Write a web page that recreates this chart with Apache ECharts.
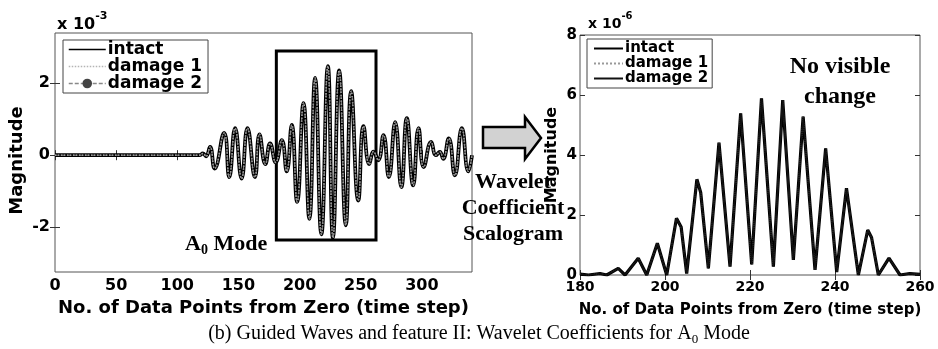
<!DOCTYPE html>
<html>
<head>
<meta charset="utf-8">
<script src="https://cdn.jsdelivr.net/npm/echarts@6/dist/echarts.min.js"></script>
<style>
html, body { margin: 0; padding: 0; background: #fff; }
#chart { width: 938px; height: 349px; }
</style>
</head>
<body>
<div id="chart"></div>
<script>
// left panel: guided wave signal, magnitude in 1e-3 (peaks and troughs)
var waveTime = [0, 118, 121, 123.5, 126.8, 130.5, 138.3, 142.5, 147.3, 152.6, 157.4, 163.5, 167.2, 172, 175.9, 180.5,
	185.5, 189.5, 193.6, 198, 203.2, 208, 212.7, 217.8, 223.1, 227.3, 232.4, 237.8, 242.2, 248, 252.3, 257, 260.5,
	264.3, 268.6, 273, 278.2, 283.2, 287.7, 292.9, 297.3, 301.5, 307.6, 311.5, 314.7, 317.4, 322, 327, 332.7, 338, 341];
var waveIntact = [0, 0, 0.05, -0.03, 0.23, -0.37, 0.62, -0.61, 0.75, -0.65, 0.75, -0.61, 0.58, -0.25, 0.33, -0.2,
	0.42, -0.45, 0.84, -1.3, 1.45, -1.77, 2.15, -2.2, 2.48, -2.3, 2.36, -1.95, 1.78, -1.26, 0.81, -0.25, 0.1,
	-0.14, 0.56, -0.61, 0.92, -0.89, 1.03, -0.84, 0.75, -0.33, 0.37, 0.0, 0.09, -0.1, 0.47, -0.56, 0.75, -0.45, 0.0];
// damage cases lie on top of the intact curve
var waveDamage1 = waveIntact.slice();
var waveDamage2 = waveIntact.slice();
var waveTicksX = [0, 50, 100, 150, 200, 250, 300];
var waveTicksY = [-2, 0, 2];
var boxArea = [181, 262.5, -2.36, 2.9]; // A0 mode window [x0, x1, y0, y1]

// right panel: wavelet coefficient magnitude, 1e-6
var coefTime = [180, 182, 184.7, 186.3, 189, 190.6, 193.7, 195.7, 198.2, 200.4, 202.7, 203.8, 205.1, 207.5, 208.4,
	210.2, 212.7, 215.3, 217.8, 220.4, 222.7, 225.5, 227.7, 230.2, 232.5, 235.3, 237.8, 240.4, 242.7, 245.5, 247.7,
	248.6, 250.2, 252.7, 255.3, 257.6, 260];
var coefIntact = [0.03, 0.0, 0.05, 0.0, 0.22, 0.0, 0.56, 0.0, 1.06, 0.0, 1.89, 1.6, 0.05, 3.19, 2.75,
	0.22, 4.41, 0.28, 5.39, 0.35, 5.89, 0.28, 5.83, 0.5, 5.28, 0.17, 4.22, 0.1, 2.89, 0.0, 1.5,
	1.25, 0.0, 0.56, 0.0, 0.05, 0.02];
var coefDamage1 = coefIntact.slice();
var coefDamage2 = coefIntact.slice();
var coefTicksX = [180, 200, 220, 240, 260];
var coefTicksY = [0, 2, 4, 6, 8];

var seriesNames = ['intact', 'damage 1', 'damage 2'];

var SANS = 'DejaVu Sans';
var SERIF = 'Liberation Serif';

function pairs(t, v) {
	return t.map(function(x, i) {
		return [x, v[i]];
	});
}

function bold(size) {
	return { fontFamily: SANS, fontWeight: 'bold', fontSize: size, color: '#000' };
}

function tickAxis(grid, min, max, ticks, pos, opts) {
	var ax = {
		gridIndex: grid,
		type: 'value',
		min: min,
		max: max,
		position: pos,
		axisLine: { show: false },
		splitLine: { show: false },
		axisTick: { show: true, inside: true, length: 5, customValues: ticks, lineStyle: { color: '#333', width: 1 } },
		axisLabel: { show: false, customValues: ticks }
	};
	return Object.assign(ax, opts || {});
}

// legend rows, the symbol is only shown for damage 2 on the left
function legendRows(names, dotLast) {
	return names.map(function(n, i) {
		var showDot = dotLast && i === names.length - 1;
		return { name: n, itemStyle: { opacity: showDot ? 1 : 0 } };
	});
}

// right panel names carry a zero width space so both legends keep their own icons
var rightNames = seriesNames.map(function(n) { return n + '\u200b'; });

var chart = echarts.init(document.getElementById('chart'));

var option = {
	animation: false,
	backgroundColor: '#fff',
	grid: [
		{ left: 55, top: 33, width: 417, height: 239, show: true, borderColor: '#555', borderWidth: 1 },
		{ left: 580, top: 35, width: 340, height: 240, show: true, borderColor: '#555', borderWidth: 1 }
	],
	xAxis: [
		tickAxis(0, 0, 341, waveTicksX, 'bottom', {
			name: 'No. of Data Points from Zero (time step)',
			nameLocation: 'middle',
			nameGap: 27,
			nameTextStyle: bold(18),
			axisLabel: Object.assign({ show: true, margin: 6, customValues: waveTicksX }, bold(16))
		}),
		tickAxis(0, 0, 341, waveTicksX, 'top'),
		tickAxis(1, 180, 260, coefTicksX, 'bottom', {
			name: 'No. of Data Points from Zero (time step)',
			nameLocation: 'middle',
			nameGap: 28,
			nameTextStyle: bold(15),
			axisLabel: Object.assign({ show: true, margin: 5, customValues: coefTicksX }, bold(14))
		}),
		tickAxis(1, 180, 260, coefTicksX, 'top')
	],
	yAxis: [
		tickAxis(0, -3.25, 3.4, waveTicksY, 'left', {
			name: 'Magnitude',
			nameLocation: 'middle',
			nameGap: 29,
			nameTextStyle: Object.assign({ padding: [0, 16, 0, 0] }, bold(18)),
			axisLabel: Object.assign({ show: true, margin: 5, customValues: waveTicksY }, bold(16))
		}),
		tickAxis(0, -3.25, 3.4, waveTicksY, 'right'),
		tickAxis(1, 0, 8, coefTicksY, 'left', {
			name: 'Magnitude',
			nameLocation: 'middle',
			nameGap: 20,
			nameTextStyle: bold(16),
			axisLabel: Object.assign({ show: true, margin: 3, customValues: coefTicksY }, bold(15))
		}),
		tickAxis(1, 0, 8, coefTicksY, 'right')
	],
	legend: [{
		data: legendRows(seriesNames, true),
		orient: 'vertical',
		left: 63,
		top: 40,
		padding: [1, 6, 1, 5],
		itemGap: 0,
		itemWidth: 37,
		itemHeight: 12,
		backgroundColor: '#fff',
		borderColor: '#444',
		borderWidth: 1,
		borderRadius: 0,
		selectedMode: false,
		lineStyle: { width: 1.5 },
		textStyle: Object.assign({ padding: [0, 0, 0, -3] }, bold(17))
	}, {
		data: legendRows(rightNames, false),
		orient: 'vertical',
		left: 587,
		top: 39,
		padding: [2, 4, 2, 6],
		itemGap: 0,
		itemWidth: 29,
		itemHeight: 12,
		backgroundColor: '#fff',
		borderColor: '#444',
		borderWidth: 1,
		borderRadius: 0,
		selectedMode: false,
		lineStyle: { width: 2 },
		formatter: function(n) {
			return n.replace('\u200b', '');
		},
		textStyle: Object.assign({ padding: [0, 0, 0, -3] }, bold(15))
	}],
	series: [{
		name: seriesNames[0],
		type: 'line',
		xAxisIndex: 0,
		yAxisIndex: 0,
		smooth: 0.5,
		symbol: 'none',
		data: pairs(waveTime, waveIntact),
		lineStyle: { color: '#000', width: 3.8 },
		itemStyle: { color: '#000' },
		markArea: {
			silent: true,
			itemStyle: { color: 'rgba(0,0,0,0)', borderColor: '#000', borderWidth: 3 },
			data: [[{ coord: [boxArea[0], boxArea[3]] }, { coord: [boxArea[1], boxArea[2]] }]]
		},
		z: 2
	}, {
		name: seriesNames[1],
		type: 'line',
		xAxisIndex: 0,
		yAxisIndex: 0,
		smooth: 0.5,
		symbol: 'none',
		data: pairs(waveTime, waveDamage1),
		lineStyle: { color: '#b4b4b4', width: 1.5, type: 'dotted' },
		itemStyle: { color: '#b4b4b4' },
		z: 3
	}, {
		name: seriesNames[2],
		type: 'line',
		xAxisIndex: 0,
		yAxisIndex: 0,
		smooth: 0.5,
		symbol: 'circle',
		symbolSize: 5,
		showSymbol: false,
		data: pairs(waveTime, waveDamage2),
		lineStyle: { color: '#888', width: 1, type: [4, 2] },
		itemStyle: { color: '#444' },
		z: 4
	}, {
		name: rightNames[0],
		type: 'line',
		xAxisIndex: 2,
		yAxisIndex: 2,
		symbol: 'none',
		data: pairs(coefTime, coefIntact),
		lineStyle: { color: '#000', width: 3.2 },
		itemStyle: { color: '#000' },
		z: 2
	}, {
		name: rightNames[1],
		type: 'line',
		xAxisIndex: 2,
		yAxisIndex: 2,
		symbol: 'none',
		data: pairs(coefTime, coefDamage1),
		lineStyle: { color: '#999', width: 1, type: 'dotted' },
		itemStyle: { color: '#999' },
		z: 3
	}, {
		name: rightNames[2],
		type: 'line',
		xAxisIndex: 2,
		yAxisIndex: 2,
		symbol: 'none',
		data: pairs(coefTime, coefDamage2),
		lineStyle: { color: '#111', width: 1.4 },
		itemStyle: { color: '#111' },
		z: 4
	}],
	graphic: [{
		type: 'text',
		left: 57,
		top: 11,
		style: {
			text: '{b|x 10}{s|-3}',
			rich: {
				b: { fontFamily: SANS, fontWeight: 'bold', fontSize: 16, lineHeight: 22, verticalAlign: 'bottom' },
				s: { fontFamily: SANS, fontWeight: 'bold', fontSize: 11, lineHeight: 22, verticalAlign: 'top' }
			}
		}
	}, {
		type: 'text',
		left: 588,
		top: 11,
		style: {
			text: '{b|x 10}{s|-6}',
			rich: {
				b: { fontFamily: SANS, fontWeight: 'bold', fontSize: 14, lineHeight: 20, verticalAlign: 'bottom' },
				s: { fontFamily: SANS, fontWeight: 'bold', fontSize: 10, lineHeight: 20, verticalAlign: 'top' }
			}
		}
	}, {
		type: 'text',
		left: 185,
		top: 233,
		style: {
			text: '{a|A}{s|0}{a| Mode}',
			rich: {
				a: { fontFamily: SERIF, fontWeight: 'bold', fontSize: 22, lineHeight: 26, verticalAlign: 'middle' },
				s: { fontFamily: SERIF, fontWeight: 'bold', fontSize: 14, lineHeight: 26, verticalAlign: 'bottom' }
			}
		}
	}, {
		type: 'polygon',
		shape: {
			points: [[483, 127], [525, 127], [525, 117], [541, 138], [525, 159], [525, 148], [483, 148]]
		},
		style: { fill: '#d2d2d2', stroke: '#000', lineWidth: 2.5 },
		z: 10
	}, {
		type: 'text',
		x: 513,
		y: 169,
		z: 10,
		style: {
			text: 'Wavelet\nCoefficient\nScalogram',
			fontFamily: SERIF,
			fontWeight: 'bold',
			fontSize: 22,
			lineHeight: 26,
			align: 'center',
			verticalAlign: 'top',
			fill: '#000'
		}
	}, {
		type: 'text',
		x: 840,
		y: 52,
		style: {
			text: 'No visible\nchange',
			fontFamily: SERIF,
			fontWeight: 'bold',
			fontSize: 24,
			lineHeight: 30,
			align: 'center',
			verticalAlign: 'top',
			fill: '#000'
		}
	}, {
		type: 'text',
		x: 479,
		y: 322,
		style: {
			text: '{n|(b) Guided Waves and feature II: Wavelet Coefficients for A}{s|0}{n| Mode}',
			align: 'center',
			verticalAlign: 'top',
			rich: {
				n: { fontFamily: SERIF, fontSize: 20, lineHeight: 24, verticalAlign: 'middle', color: '#000' },
				s: { fontFamily: SERIF, fontSize: 13, lineHeight: 24, verticalAlign: 'bottom', color: '#000' }
			}
		}
	}]
};

chart.setOption(option);
</script>
</body>
</html>
